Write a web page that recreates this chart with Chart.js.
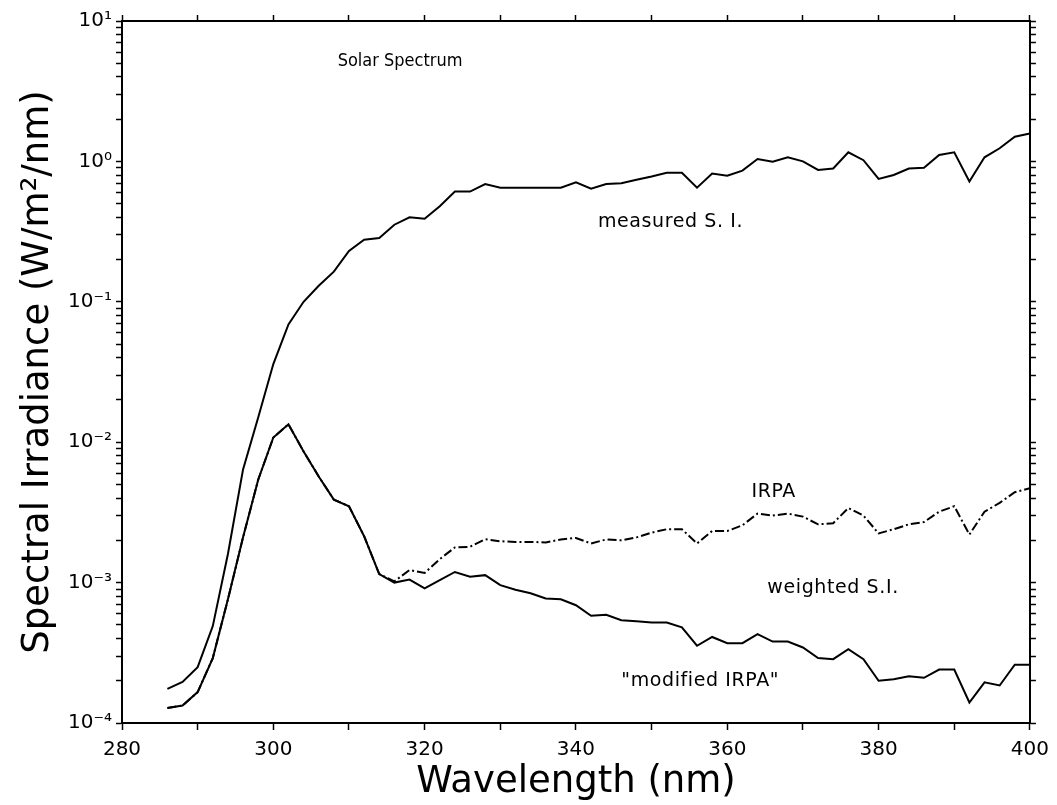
<!DOCTYPE html>
<html lang="en">
<head>
  <meta charset="UTF-8" />
  <title>Solar Spectrum</title>
  <script src="https://cdn.jsdelivr.net/npm/chart.js"></script>
  <style>
    html, body { margin: 0; padding: 0; background: #fff; }
    #wrap { width: 1057px; height: 805px; position: relative; }
  </style>
</head>
<body>
  <div id="wrap"><canvas id="chart"></canvas></div>

  <script>
    // wavelength (nm)
    const wavelengths = [
      286, 288, 290, 292, 294, 296, 298, 300, 302, 304, 306, 308, 310, 312, 314, 316,
      318, 320, 322, 324, 326, 328, 330, 332, 334, 336, 338, 340, 342, 344, 346, 348,
      350, 352, 354, 356, 358, 360, 362, 364, 366, 368, 370, 372, 374, 376, 378, 380,
      382, 384, 386, 388, 390, 392, 394, 396, 398, 400
    ];

    // measured spectral irradiance (W/m2/nm)
    const measured = [
      1.75e-4, 1.96e-4, 2.5e-4, 4.9e-4, 1.6e-3, 6.4e-3, 0.015, 0.036, 0.069, 0.10, 0.13, 0.164, 0.23, 0.277, 0.285, 0.354,
      0.40, 0.39, 0.48, 0.61, 0.61, 0.69, 0.65, 0.65, 0.65, 0.65, 0.65, 0.71, 0.64, 0.69, 0.70, 0.74,
      0.78, 0.83, 0.83, 0.65, 0.82, 0.79, 0.86, 1.04, 0.995, 1.07, 1.0, 0.87, 0.89, 1.16, 1.02, 0.75,
      0.80, 0.89, 0.90, 1.11, 1.16, 0.72, 1.07, 1.24, 1.50, 1.58
    ];

    // weighted by IRPA action spectrum
    const irpa = [
      1.28e-4, 1.33e-4, 1.66e-4, 2.9e-4, 7.6e-4, 2.1e-3, 5.4e-3, 0.0108, 0.0134, 8.6e-3, 5.7e-3, 3.9e-3, 3.5e-3, 2.14e-3, 1.15e-3, 1.02e-3,
      1.23e-3, 1.17e-3, 1.47e-3, 1.78e-3, 1.8e-3, 2.04e-3, 1.97e-3, 1.95e-3, 1.95e-3, 1.93e-3, 2.03e-3, 2.08e-3, 1.9e-3, 2.03e-3, 2.0e-3, 2.1e-3,
      2.27e-3, 2.4e-3, 2.4e-3, 1.9e-3, 2.33e-3, 2.33e-3, 2.56e-3, 3.1e-3, 3.0e-3, 3.1e-3, 2.95e-3, 2.6e-3, 2.65e-3, 3.4e-3, 3.0e-3, 2.24e-3,
      2.4e-3, 2.6e-3, 2.7e-3, 3.2e-3, 3.5e-3, 2.2e-3, 3.2e-3, 3.7e-3, 4.4e-3, 4.7e-3
    ];

    // weighted by "modified IRPA" action spectrum
    const modifiedIrpa = [
      1.28e-4, 1.33e-4, 1.66e-4, 2.9e-4, 7.6e-4, 2.1e-3, 5.4e-3, 0.0108, 0.0134, 8.6e-3, 5.7e-3, 3.9e-3, 3.5e-3, 2.14e-3, 1.15e-3, 1.0e-3,
      1.05e-3, 9.1e-4, 1.04e-3, 1.19e-3, 1.1e-3, 1.13e-3, 9.6e-4, 8.9e-4, 8.4e-4, 7.7e-4, 7.6e-4, 6.9e-4, 5.8e-4, 5.9e-4, 5.4e-4, 5.3e-4,
      5.2e-4, 5.2e-4, 4.8e-4, 3.55e-4, 4.1e-4, 3.7e-4, 3.7e-4, 4.3e-4, 3.8e-4, 3.8e-4, 3.45e-4, 2.9e-4, 2.85e-4, 3.35e-4, 2.85e-4, 2.0e-4,
      2.05e-4, 2.15e-4, 2.1e-4, 2.4e-4, 2.4e-4, 1.4e-4, 1.95e-4, 1.85e-4, 2.6e-4, 2.6e-4
    ];

    // axis ticks
    const xTickValues = [280, 300, 320, 340, 360, 380, 400];
    const yDecades = [-4, -3, -2, -1, 0, 1];
    const yTickLabels = ['10⁻⁴', '10⁻³', '10⁻²', '10⁻¹', '10⁰', '10¹'];

    // text labels inside the plot
    const labelTexts = ['Solar Spectrum', 'measured S. I.', 'IRPA', 'weighted S.I.', '"modified IRPA"'];
    const labelX = [308.5, 342.9, 363.2, 365.3, 346];
    const labelY = [5.2, 0.37, 4.4e-3, 9.1e-4, 2.0e-4];

    const toPoints = vals => wavelengths.map((w, i) => ({ x: w, y: vals[i] }));

    // minor + major log ticks (1..9 per decade)
    const logTicks = () => {
      const ticks = [];
      yDecades.forEach(d => {
        const n = d === yDecades[yDecades.length - 1] ? 1 : 9;
        for (let s = 1; s <= n; s++) ticks.push({ value: s * Math.pow(10, d) });
      });
      return ticks;
    };

    const yLabel = (value) => {
      const d = Math.round(Math.log10(value));
      if (Math.abs(value - Math.pow(10, d)) > 1e-12 * Math.pow(10, d)) return '';
      const i = yDecades.indexOf(d);
      return i >= 0 ? yTickLabels[i] : '';
    };

    const textLabels = {
      id: 'textLabels',
      afterDatasetsDraw(chart) {
        const { ctx, scales } = chart;
        ctx.save();
        ctx.fillStyle = '#000';
        ctx.textBaseline = 'middle';
        ctx.textAlign = 'left';
        labelTexts.forEach((t, i) => {
          if (i === 0) {
            ctx.font = '18px "DejaVu Sans Condensed", "DejaVu Sans"';
            ctx.letterSpacing = '0px';
          } else {
            ctx.font = '19px "DejaVu Sans"';
            ctx.letterSpacing = '0.6px';
          }
          ctx.fillText(t, scales.x.getPixelForValue(labelX[i]), scales.y.getPixelForValue(labelY[i]));
        });
        ctx.restore();
      }
    };

    const tickFont = { family: 'DejaVu Sans', size: 20 };
    const titleFont = { family: 'DejaVu Sans', size: 37 };

    new Chart(document.getElementById('chart'), {
      type: 'line',
      data: {
        datasets: [
          { label: 'measured S. I.', data: toPoints(measured), borderColor: '#000', borderWidth: 2 },
          { label: 'IRPA', data: toPoints(irpa), borderColor: '#000', borderWidth: 2, borderDash: [9, 3, 2, 3] },
          { label: 'modified IRPA', data: toPoints(modifiedIrpa), borderColor: '#000', borderWidth: 2 }
        ]
      },
      options: {
        responsive: true,
        maintainAspectRatio: false,
        animation: false,
        elements: { point: { radius: 0 }, line: { tension: 0 } },
        plugins: { legend: { display: false }, tooltip: { enabled: false } },
        layout: { padding: 0 },
        scales: {
          x: {
            type: 'linear', position: 'bottom', min: 280, max: 400,
            afterBuildTicks: s => { s.ticks = []; for (let v = 280; v <= 400; v += 10) s.ticks.push({ value: v }); },
            ticks: {
              color: '#000', font: tickFont, padding: 8, maxRotation: 0, autoSkip: false,
              callback: v => xTickValues.includes(v) ? String(v) : ''
            },
            grid: { drawOnChartArea: false, color: '#000', tickLength: 7, tickWidth: 1.5 },
            border: { color: '#000', width: 2 },
            title: { display: true, text: 'Wavelength (nm)', color: '#000', font: titleFont, padding: 0 },
            afterFit: s => { s.height = 82; }
          },
          xTop: {
            type: 'linear', position: 'top', min: 280, max: 400,
            afterBuildTicks: s => { s.ticks = []; for (let v = 280; v <= 400; v += 10) s.ticks.push({ value: v }); },
            ticks: { display: false },
            grid: { drawOnChartArea: false, color: '#000', tickLength: 6, tickWidth: 1.5 },
            border: { color: '#000', width: 2 },
            afterFit: s => { s.height = 21; }
          },
          y: {
            type: 'logarithmic', position: 'left', min: 1e-4, max: 10,
            afterBuildTicks: s => { s.ticks = logTicks(); },
            ticks: { color: '#000', font: tickFont, padding: 4, autoSkip: false, callback: v => yLabel(v) },
            grid: { drawOnChartArea: false, color: '#000', tickLength: 6, tickWidth: 1.5 },
            border: { color: '#000', width: 2 },
            title: { display: true, text: 'Spectral Irradiance (W/m²/nm)', color: '#000', font: titleFont, padding: { top: 16, bottom: 0 } },
            afterFit: s => { s.width = 122; }
          },
          yRight: {
            type: 'logarithmic', position: 'right', min: 1e-4, max: 10,
            afterBuildTicks: s => { s.ticks = logTicks(); },
            ticks: { display: false },
            grid: { drawOnChartArea: false, color: '#000', tickLength: 6, tickWidth: 1.5 },
            border: { color: '#000', width: 2 },
            afterFit: s => { s.width = 27; }
          }
        }
      },
      plugins: [textLabels]
    });
  </script>
</body>
</html>
